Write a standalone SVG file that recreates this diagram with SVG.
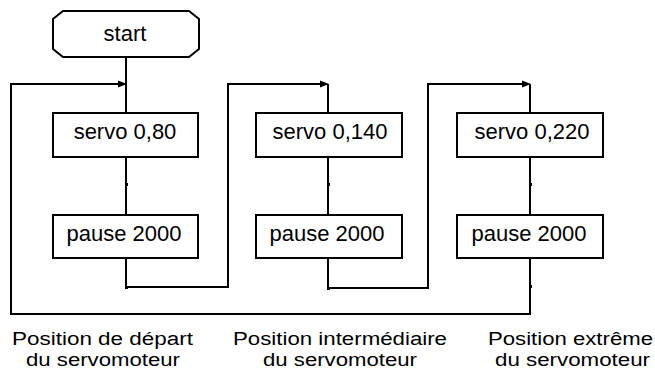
<svg xmlns="http://www.w3.org/2000/svg" width="655" height="371" viewBox="0 0 655 371">
<style>
.box{fill:#fff;stroke:#000;stroke-width:2}
.ln{fill:none;stroke:#000;stroke-width:2}
.t{font-family:"Liberation Sans",Arial,sans-serif;font-size:22px;fill:#000;text-anchor:middle}
.b{font-family:"Liberation Sans",Arial,sans-serif;font-size:18px;fill:#000}
.ah{fill:#000}
</style>
<rect width="655" height="371" fill="#fff"/>
<g id="connectors">
<polyline class="ln" points="126,57 126,113"/>
<polyline class="ln" points="530,258 530,314 11,314 11,84 120,84"/>
<polyline class="ln" points="126,157 126,215"/>
<polyline class="ln" points="126,257 126,287 228,287 228,84 322,84"/>
<polyline class="ln" points="328,84 328,113"/>
<polyline class="ln" points="328,157 328,215"/>
<polyline class="ln" points="328,258 328,288 428,288 428,84 524,84"/>
<polyline class="ln" points="530,84 530,113"/>
<polyline class="ln" points="530,157 530,215"/>
<polygon class="ah" points="118,80.5 127,84 118,87.5"/>
<polygon class="ah" points="320,80.5 329,84 320,87.5"/>
<polygon class="ah" points="522,80.5 531,84 522,87.5"/>
<rect class="ah" x="125" y="183" width="3" height="3"/>
<rect class="ah" x="327" y="183" width="3" height="3"/>
<rect class="ah" x="529" y="183" width="3" height="3"/>
<rect class="ah" x="125" y="286" width="3" height="3"/>
<rect class="ah" x="327" y="287" width="3" height="3"/>
<rect class="ah" x="529" y="285" width="3" height="3"/>
</g>
<g id="start">
<polygon class="box" points="63,11 189,11 199,19 199,49 189,57 63,57 53,49 53,19"/>
<text class="t" x="125" y="41">start</text>
</g>
<g id="servo1">
<rect class="box" x="53" y="113" width="145" height="44"/>
<text class="t" x="125" y="139">servo 0,80</text>
</g>
<g id="pause1">
<rect class="box" x="53" y="215" width="145" height="43"/>
<text class="t" x="124" y="241">pause 2000</text>
</g>
<g id="servo2">
<rect class="box" x="256" y="113" width="146" height="44"/>
<text class="t" x="330" y="139">servo 0,140</text>
</g>
<g id="pause2">
<rect class="box" x="256" y="215" width="146" height="43"/>
<text class="t" x="327" y="241">pause 2000</text>
</g>
<g id="servo3">
<rect class="box" x="457" y="113" width="146" height="44"/>
<text class="t" x="532" y="139">servo 0,220</text>
</g>
<g id="pause3">
<rect class="box" x="457" y="215" width="146" height="43"/>
<text class="t" x="529" y="241">pause 2000</text>
</g>
<g id="label1">
<text class="b" x="12" y="345" textLength="181" lengthAdjust="spacingAndGlyphs">Position de départ</text>
<text class="b" x="26" y="366" textLength="154" lengthAdjust="spacingAndGlyphs">du servomoteur</text>
</g>
<g id="label2">
<text class="b" x="233" y="345" textLength="214" lengthAdjust="spacingAndGlyphs">Position intermédiaire</text>
<text class="b" x="263" y="366" textLength="154" lengthAdjust="spacingAndGlyphs">du servomoteur</text>
</g>
<g id="label3">
<text class="b" x="488" y="345" textLength="165" lengthAdjust="spacingAndGlyphs">Position extrême</text>
<text class="b" x="495" y="366" textLength="155" lengthAdjust="spacingAndGlyphs">du servomoteur</text>
</g>
</svg>
